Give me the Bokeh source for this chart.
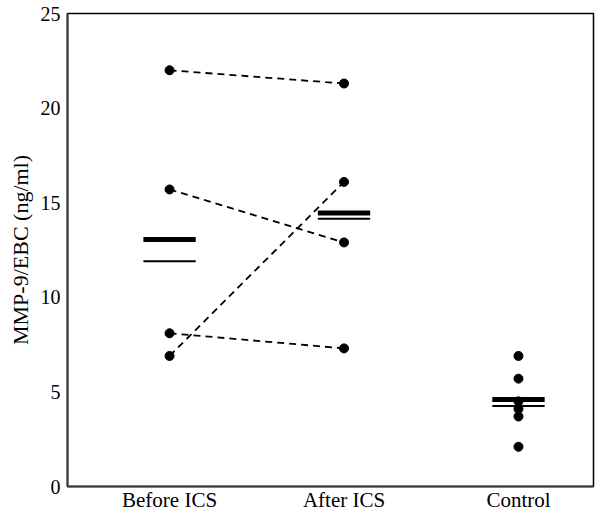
from bokeh.plotting import figure
from bokeh.models import Range1d, FixedTicker
from bokeh.embed import file_html
from bokeh.resources import INLINE

# ---- data ----
groups = ["Before ICS", "After ICS", "Control"]
before_ics = [22.0, 15.7, 8.1, 6.9]
after_ics = [21.3, 12.9, 7.3, 16.1]
control = [6.9, 5.7, 4.5, 4.1, 3.7, 2.1]
mean_vals = [13.05, 14.45, 4.6]      # thick bars
median_vals = [11.9, 14.15, 4.25]    # thin bars
y_ticks = [0, 5, 10, 15, 20, 25]

FONT = "Liberation Serif"

p = figure(width=598, height=514, output_backend="svg", toolbar_location=None,
           x_range=Range1d(-0.585, 2.43), y_range=Range1d(0, 25),
           min_border_left=67, min_border_right=5, min_border_top=13,
           min_border_bottom=24)

p.grid.visible = False
p.background_fill_color = "white"
p.border_fill_color = "white"
p.outline_line_color = "black"
p.outline_line_width = 1.5

# paired dashed lines
for b, a in zip(before_ics, after_ics):
    p.line([0, 1], [b, a], line_color="black", line_width=1.8, line_dash="7 5")

p.scatter([0] * len(before_ics), before_ics, size=9, color="black")
p.scatter([1] * len(after_ics), after_ics, size=9, color="black")
p.scatter([2] * len(control), control, size=9, color="black")

xs = list(range(len(groups)))
half = 0.15
p.segment(x0=[x - half for x in xs], x1=[x + half for x in xs], y0=mean_vals, y1=mean_vals,
          line_color="black", line_width=5, line_cap="butt")
p.segment(x0=[x - half for x in xs], x1=[x + half for x in xs], y0=median_vals, y1=median_vals,
          line_color="black", line_width=2, line_cap="butt")

# axes
p.xaxis.ticker = FixedTicker(ticks=xs)
p.xaxis.major_label_overrides = {i: g for i, g in enumerate(groups)}
p.yaxis.ticker = FixedTicker(ticks=y_ticks)

for ax in (p.xaxis, p.yaxis):
    ax.major_tick_out = 0
    ax.major_tick_in = 0
    ax.minor_tick_out = 0
    ax.minor_tick_in = 0
    ax.axis_line_color = "#3a3a3a"
    ax.axis_line_width = 2
    ax.major_label_text_font = FONT
    ax.major_label_text_font_size = "20px"
    ax.major_label_text_color = "black"

p.xaxis.major_label_text_font_size = "21px"
p.xaxis.major_label_standoff = 1
p.yaxis.major_label_standoff = 7
p.yaxis.axis_label = "MMP-9/EBC (ng/ml)"
p.yaxis.axis_label_text_font = FONT
p.yaxis.axis_label_text_font_size = "22px"
p.yaxis.axis_label_text_font_style = "normal"
p.yaxis.axis_label_text_color = "black"
p.yaxis.axis_label_standoff = 5

open("out.html", "w").write(file_html(p, INLINE))
